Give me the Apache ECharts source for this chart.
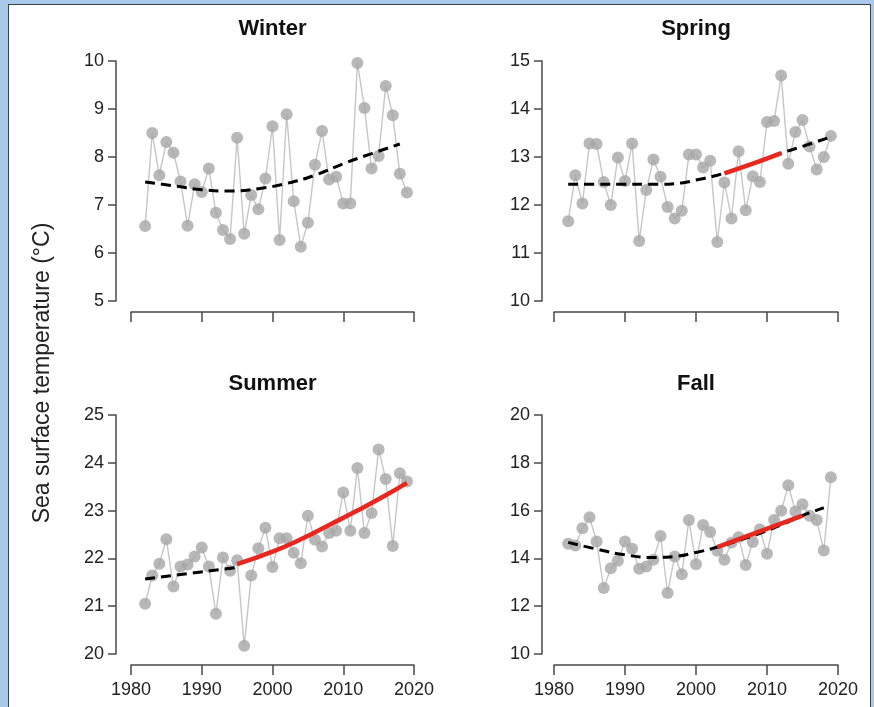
<!DOCTYPE html>
<html lang="en">
<head>
    <meta charset="UTF-8">
    <title>Sea surface temperature</title>
    <style>
        * {
            margin: 0px;
            padding: 0px;
        }

        body {
            width: 874px;
            height: 707px;
            background-color: #a9cbe9;
            overflow: hidden;
            position: relative
        }

        .frame {
            position: absolute;
            left: 8px;
            top: 4px;
            width: 861px;
            height: 720px;
            background-color: #ffffff;
            border: 1.5px solid #3c4048
        }

        #main {
            position: absolute;
            left: 0px;
            top: 0px;
            width: 874px;
            height: 707px
        }
    </style>
</head>
<body>
<div class="frame"></div>
<div id="main"></div>

<script src="https://cdn.jsdelivr.net/npm/echarts@6/dist/echarts.min.js"></script>
<script type="text/javascript">
    // years 1982 - 2019
    var years = [1982, 1983, 1984, 1985, 1986, 1987, 1988, 1989, 1990, 1991,
        1992, 1993, 1994, 1995, 1996, 1997, 1998, 1999, 2000, 2001,
        2002, 2003, 2004, 2005, 2006, 2007, 2008, 2009, 2010, 2011,
        2012, 2013, 2014, 2015, 2016, 2017, 2018, 2019];

    var winter = [6.56, 8.50, 7.62, 8.31, 8.09, 7.49, 6.57, 7.43, 7.27, 7.76,
        6.84, 6.48, 6.29, 8.40, 6.40, 7.21, 6.91, 7.55, 8.64, 6.27,
        8.89, 7.08, 6.13, 6.63, 7.84, 8.54, 7.53, 7.59, 7.03, 7.03,
        9.96, 9.02, 7.76, 8.02, 9.48, 8.87, 7.65, 7.26];
    var spring = [11.66, 12.62, 12.03, 13.28, 13.27, 12.48, 12.00, 12.99, 12.50, 13.28,
        11.25, 12.31, 12.95, 12.59, 11.96, 11.72, 11.88, 13.05, 13.05, 12.78,
        12.92, 11.23, 12.47, 11.72, 13.12, 11.89, 12.60, 12.48, 13.73, 13.75,
        14.70, 12.86, 13.52, 13.77, 13.22, 12.74, 13.00, 13.44];
    var summer = [21.05, 21.64, 21.89, 22.40, 21.41, 21.83, 21.87, 22.04, 22.23, 21.83,
        20.84, 22.02, 21.74, 21.96, 20.17, 21.64, 22.21, 22.64, 21.82, 22.42,
        22.42, 22.12, 21.90, 22.89, 22.39, 22.25, 22.53, 22.58, 23.38, 22.58,
        23.89, 22.53, 22.95, 24.28, 23.66, 22.26, 23.78, 23.61];
    var fall = [14.61, 14.54, 15.26, 15.72, 14.71, 12.76, 13.59, 13.90, 14.71, 14.40,
        13.57, 13.66, 13.94, 14.94, 12.55, 14.08, 13.34, 15.61, 13.76, 15.40,
        15.10, 14.32, 13.94, 14.66, 14.89, 13.72, 14.69, 15.22, 14.19, 15.61,
        15.99, 17.06, 15.96, 16.27, 15.78, 15.61, 14.33, 17.40];

    // fitted trends: [year, value]
    var winterTrend = [[1982, 7.48], [1986, 7.40], [1990, 7.32], [1994, 7.29], [1998, 7.34],
        [2002, 7.45], [2006, 7.62], [2010, 7.86], [2014, 8.07], [2018, 8.27]];
    var springTrend = [[1982, 12.43], [1986, 12.43], [1990, 12.43], [1994, 12.43], [1998, 12.46],
        [2000, 12.52], [2003, 12.62], [2006, 12.76], [2009, 12.91], [2012, 13.08],
        [2015, 13.22], [2019, 13.42]];
    var springRed = [[2004, 12.66], [2008, 12.86], [2012, 13.08]];
    var summerTrend = [[1982, 21.57], [1995, 21.81]];
    var summerRed = [[1995, 21.88], [2000, 22.14], [2004, 22.40], [2008, 22.70],
        [2012, 23.00], [2016, 23.32], [2019, 23.58]];
    var fallTrend = [[1982, 14.67], [1986, 14.39], [1990, 14.15], [1994, 14.04], [1997, 14.08],
        [2000, 14.25], [2003, 14.47], [2006, 14.75], [2009, 15.05], [2012, 15.40],
        [2015, 15.79], [2018, 16.12]];
    var fallRed = [[2003, 14.47], [2007, 14.91], [2011, 15.35], [2015, 15.79]];

    var titles = ['Winter', 'Spring', 'Summer', 'Fall'];
    var yMin = [5, 10, 20, 10];
    var yMax = [10, 15, 25, 20];
    var yStep = [1, 1, 1, 2];

    var font = "'Liberation Sans', Arial, sans-serif";
    var axisColor = '#4a4a4a';

    var panels = [
        {left: 131, top: 61, width: 283, height: 240, yOff: 15, labels: false},
        {left: 554, top: 61, width: 284, height: 240, yOff: 12, labels: false},
        {left: 131, top: 415, width: 283, height: 239, yOff: 15, labels: true},
        {left: 554, top: 415, width: 284, height: 239, yOff: 12, labels: true}
    ];

    function pairs(vals) {
        return years.map(function (y, i) {
            return [y, vals[i]];
        });
    }

    var grids = [], xAxes = [], yAxes = [], series = [], graphics = [];
    var seasonData = [winter, spring, summer, fall];
    var trends = [winterTrend, springTrend, summerTrend, fallTrend];
    var reds = [null, springRed, summerRed, fallRed];

    panels.forEach(function (p, k) {
        grids.push({left: p.left, top: p.top, width: p.width, height: p.height});
        xAxes.push({
            type: 'value', gridIndex: k, min: 1980, max: 2020, interval: 10,
            offset: 11,
            splitLine: {show: false},
            axisLine: {lineStyle: {color: axisColor, width: 1.5}},
            axisTick: {length: 10, lineStyle: {color: axisColor, width: 1.5}},
            axisLabel: {
                show: p.labels, color: '#222', fontSize: 18, fontFamily: font, margin: 16,
                formatter: function (v) {
                    return String(v);
                }
            }
        });
        yAxes.push({
            type: 'value', gridIndex: k, min: yMin[k], max: yMax[k], interval: yStep[k],
            offset: p.yOff,
            splitLine: {show: false},
            axisLine: {show: true, lineStyle: {color: axisColor, width: 1.5}},
            axisTick: {show: true, length: 8, lineStyle: {color: axisColor, width: 1.5}},
            axisLabel: {color: '#222', fontSize: 18, fontFamily: font, margin: 12}
        });
        series.push({
            type: 'line', xAxisIndex: k, yAxisIndex: k, data: pairs(seasonData[k]),
            symbol: 'none', clip: false, silent: true,
            lineStyle: {color: '#c6c6c6', width: 1.4}, z: 2
        });
        series.push({
            type: 'scatter', xAxisIndex: k, yAxisIndex: k, data: pairs(seasonData[k]),
            symbolSize: 12, clip: false, silent: true,
            itemStyle: {color: '#a6a6a6'}, z: 3
        });
        series.push({
            type: 'line', xAxisIndex: k, yAxisIndex: k, data: trends[k],
            symbol: 'none', smooth: true, clip: false, silent: true,
            lineStyle: {color: '#000', width: 3, type: [10, 6]}, z: 4
        });
        if (reds[k]) {
            series.push({
                type: 'line', xAxisIndex: k, yAxisIndex: k, data: reds[k],
                symbol: 'none', smooth: true, clip: false, silent: true,
                lineStyle: {color: '#e8281e', width: 4.5}, z: 5
            });
        }
        graphics.push({
            type: 'text', x: p.left + p.width / 2, y: k < 2 ? 29 : 384,
            style: {
                text: titles[k], fill: '#111', font: 'bold 22px ' + font,
                textAlign: 'center', textVerticalAlign: 'middle'
            }
        });
    });

    graphics.push({
        type: 'text', x: 43, y: 373, rotation: Math.PI / 2,
        style: {
            text: 'Sea surface temperature (°C)', fill: '#222', font: '23px ' + font,
            textAlign: 'center', textVerticalAlign: 'middle'
        }
    });

    var myChart = echarts.init(document.getElementById('main'), null, {renderer: 'canvas'});
    myChart.setOption({
        backgroundColor: 'transparent',
        animation: false,
        grid: grids,
        xAxis: xAxes,
        yAxis: yAxes,
        series: series,
        graphic: graphics
    });
</script>
</body>
</html>
